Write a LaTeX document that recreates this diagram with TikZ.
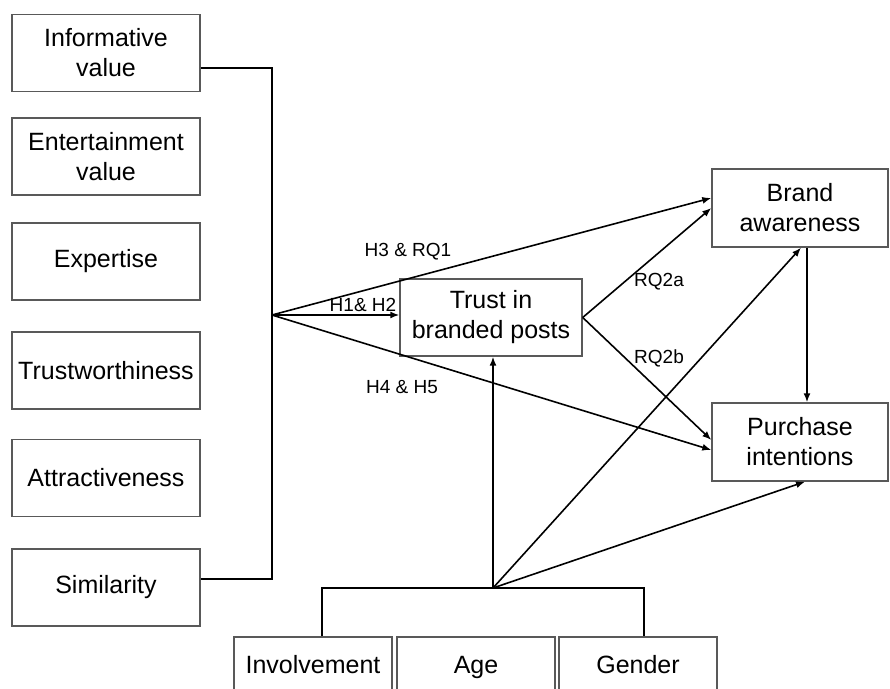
\documentclass[tikz,border=0pt]{standalone}
\usepackage{fontspec}
\setmainfont{Liberation Sans}
\usetikzlibrary{arrows.meta}
\begin{document}
\begin{tikzpicture}[x=0.5pt,y=-0.5pt,
  box/.style={rectangle,draw=black!65,line width=0.7pt,align=center,inner sep=0pt,font=\fontsize{12.5}{15}\selectfont},
  factor/.style={box,minimum width=94pt,minimum height=38.5pt},
  outcome/.style={box,minimum width=88pt,minimum height=39pt},
  ctrl/.style={box,minimum width=79pt,minimum height=30pt,text height=9pt,text depth=2.6pt},
  arr/.style={-{Latex[length=4.5pt,width=3.5pt]},line width=0.8pt},
  lab/.style={inner sep=0pt,font=\fontsize{9.5}{11}\selectfont}]
\clip (0,0) rectangle (890,689);

\node[factor] (info) at (106,53) {Informative\\value};
\node[factor] (ent) at (106,156.5) {Entertainment\\value};
\node[factor] (exp) at (106,261.5) {Expertise};
\node[factor] (trw) at (106,370.5) {Trustworthiness};
\node[factor] (attr) at (106,478) {Attractiveness};
\node[factor] (sim) at (106,587.5) {Similarity};

\node[box,minimum width=91pt,minimum height=38.5pt] (trust) at (491,317.5) {Trust in\\branded posts};
\node[outcome] (brand) at (800,208) {Brand\\awareness};
\node[outcome] (purch) at (800,442) {Purchase\\intentions};

\node[ctrl] (inv) at (313,667) {Involvement};
\node[ctrl] (age) at (476,667) {Age};
\node[ctrl] (gen) at (638,667) {Gender};

\coordinate (hub) at (272,315);
\coordinate (b1) at (272,68);
\coordinate (b2) at (272,579);
\coordinate (ctr) at (493,588);
\coordinate (c1) at (322,588);
\coordinate (c2) at (644,588);

\draw[line width=0.8pt] (info.east |- b1) -- (b1) -- (b2) -- (sim.east |- b2);
\draw[line width=0.8pt] (c1 |- inv.north) -- (c1) -- (c2) -- (c2 |- gen.north);

\draw (hub) edge[arr] ([yshift=5pt]brand.west);
\draw (hub) edge[arr] (trust.west |- hub);
\draw (hub) edge[arr] ([yshift=-4pt]purch.west);
\draw (trust.east) edge[arr] (brand.west);
\draw (trust.east) edge[arr] ([yshift=1pt]purch.west);
\draw ([xshift=3.5pt]brand.south) edge[arr] ([xshift=3.5pt]purch.north);
\draw (ctr) edge[arr] (trust.south -| ctr);
\draw (ctr) edge[arr] ([xshift=0.5pt]brand.south);
\draw (ctr) edge[arr] ([xshift=2.5pt]purch.south);

\node[lab] (h3) at (408,252) {H3 \& RQ1};
\node[lab] (h1) at (363,305) {H1\& H2};
\node[lab] (h4) at (402,387) {H4 \& H5};
\node[lab] (rq2a) at (659,282) {RQ2a};
\node[lab] (rq2b) at (659,358) {RQ2b};
\end{tikzpicture}
\end{document}
